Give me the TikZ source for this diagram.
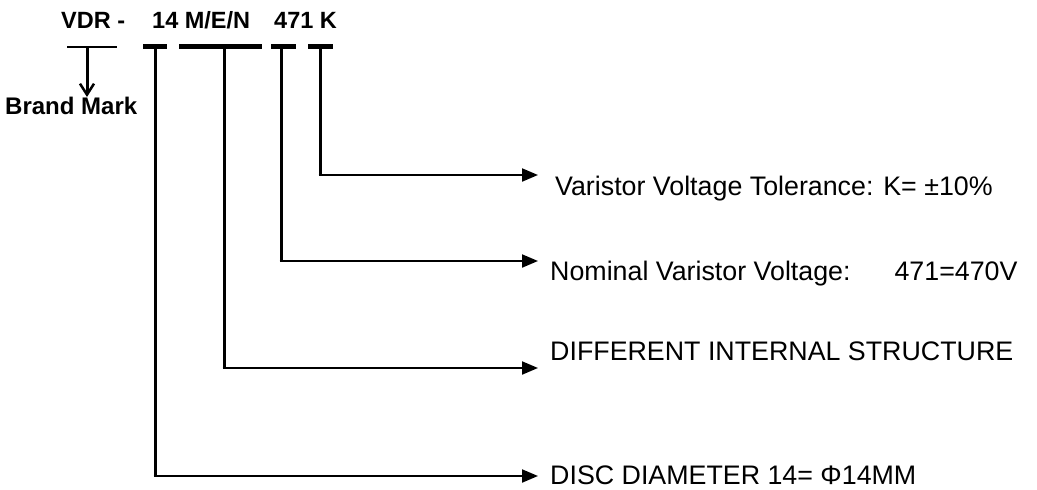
\documentclass[tikz,border=0pt]{standalone}
\usepackage{fontspec}
\setmainfont{Liberation Sans}
\usetikzlibrary{arrows.meta}
\begin{document}
\begin{tikzpicture}[x=1pt,y=-1pt,
  title/.style={inner sep=0pt,anchor=base west,font=\fontsize{23.5}{27}\selectfont\bfseries},
  label/.style={inner sep=0pt,anchor=base west,font=\fontsize{26.8}{30}\selectfont},
  bar/.style={line width=5pt},
  vline/.style={line width=3pt},
  hline/.style={line width=2pt,-{Triangle[length=16pt,width=13pt]}}
]
\useasboundingbox (0,0) rectangle (1037,490);
% title
\node[title] (vdr) at (61,28) {VDR -};
\node[title] (mid) at (152,28) {14 M/E/N};
\node[title] (end) at (274,28) {471 K};
\node[inner sep=0pt,anchor=base west,font=\fontsize{24}{28}\selectfont\bfseries] (brand) at (5,114) {Brand Mark};
% bars
\coordinate (vA) at (67,47); \coordinate (vB) at (117,47);
\draw[line width=2.5pt] (vA) -- (vB);
\coordinate (v) at (87,47);
\coordinate (vt) at (87,97);
\draw[line width=3pt,-{Straight Barb[length=11pt,width=14pt,line width=2.5pt]}] (v) -- (vt);
\coordinate (a1) at (143,46); \coordinate (a2) at (167,46);
\coordinate (b1) at (179,46); \coordinate (b2) at (262,46);
\coordinate (c1) at (271,46); \coordinate (c2) at (296,46);
\coordinate (d1) at (308,46); \coordinate (d2) at (333,46);
\draw[bar] (a1) -- (a2);
\draw[bar] (b1) -- (b2);
\draw[bar] (c1) -- (c2);
\draw[bar] (d1) -- (d2);
% stems
\coordinate (sa) at (155,46); \coordinate (ka) at (155,476); \coordinate (ta) at (538,476);
\coordinate (sb) at (224,46); \coordinate (kb) at (224,368); \coordinate (tb) at (538,368);
\coordinate (sc) at (281,46); \coordinate (kc) at (281,261); \coordinate (tc) at (538,261);
\coordinate (sd) at (320,46); \coordinate (kd) at (320,175); \coordinate (td) at (538,175);
\draw[vline] (sa) -- ([yshift=1pt]ka);
\draw[vline] (sb) -- ([yshift=1pt]kb);
\draw[vline] (sc) -- ([yshift=1pt]kc);
\draw[vline] (sd) -- ([yshift=1pt]kd);
\draw[hline] ([xshift=-1.5pt]ka) -- (ta);
\draw[hline] ([xshift=-1.5pt]kb) -- (tb);
\draw[hline] ([xshift=-1.5pt]kc) -- (tc);
\draw[hline] ([xshift=-1.5pt]kd) -- (td);
% labels
\node[label] (ld) at (555,195) {Varistor Voltage Tolerance: K= \textpm10\%};
\node[label] (lc) at (550,280) {Nominal Varistor Voltage:\hspace{44pt}471=470V};
\node[label] (lb) at (550,360) {DIFFERENT INTERNAL STRUCTURE};
\node[label] (la) at (550,484) {DISC DIAMETER 14= Φ14MM};
\end{tikzpicture}
\end{document}
